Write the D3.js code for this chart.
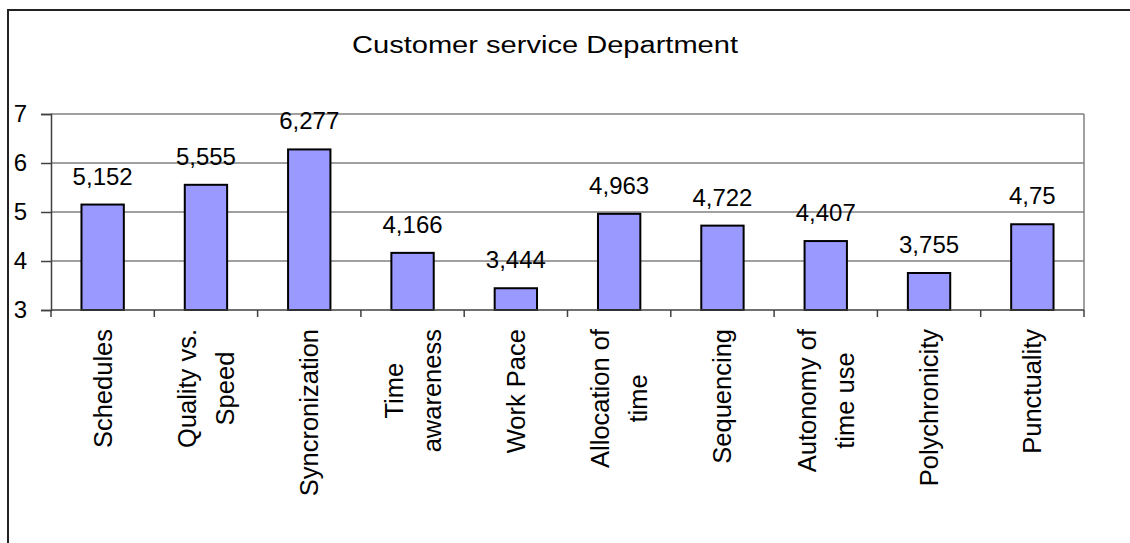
<!DOCTYPE html>
<html>
<head>
<meta charset="utf-8">
<script src="https://cdn.jsdelivr.net/npm/d3@7"></script>
<style>
  body { margin: 0; background: #fff; }
  text { font-family: "Liberation Sans", Arial, sans-serif; fill: #000; }
</style>
</head>
<body>
<svg id="chart" width="1130" height="543"></svg>
<script>
const title = "Customer service Department";
const categories = [
  ["Schedules"],
  ["Quality vs.", "Speed"],
  ["Syncronization"],
  ["Time", "awareness"],
  ["Work Pace"],
  ["Allocation of", "time"],
  ["Sequencing"],
  ["Autonomy of", "time use"],
  ["Polychronicity"],
  ["Punctuality"]
];
const values = [5.152, 5.555, 6.277, 4.166, 3.444, 4.963, 4.722, 4.407, 3.755, 4.75];
const yTicks = [3, 4, 5, 6, 7];

const plotLeft = 51, plotRight = 1084, plotTop = 114, plotBottom = 310;

const svg = d3.select("#chart");

// outer frame (runs off the right and bottom edges)
svg.append("rect")
  .attr("x", 8).attr("y", 10)
  .attr("width", 1200).attr("height", 600)
  .attr("fill", "none").attr("stroke", "#222").attr("stroke-width", 2);

const x = d3.scaleBand()
  .domain(d3.range(categories.length))
  .range([plotLeft, plotRight])
  .paddingInner(0.59)
  .paddingOuter(0.295);

const y = d3.scaleLinear().domain([3, 7]).range([plotBottom, plotTop]);

// gridlines
svg.append("g")
  .selectAll("line")
  .data(yTicks.filter(d => d > 3))
  .join("line")
  .attr("x1", plotLeft).attr("x2", plotRight)
  .attr("y1", d => y(d)).attr("y2", d => y(d))
  .attr("stroke", "#808080").attr("stroke-width", 1.5);

// right plot border
svg.append("line")
  .attr("x1", plotRight).attr("x2", plotRight)
  .attr("y1", plotTop).attr("y2", plotBottom)
  .attr("stroke", "#808080").attr("stroke-width", 1.5);

// y axis
const yAxis = d3.axisLeft(y)
  .tickValues(yTicks)
  .tickFormat(d3.format("d"))
  .tickSize(10)
  .tickPadding(14);
const gy = svg.append("g")
  .attr("transform", `translate(${plotLeft},0)`)
  .call(yAxis);
gy.select(".domain").attr("stroke", "#404040").attr("stroke-width", 1.5);
gy.selectAll(".tick line").attr("stroke", "#404040").attr("stroke-width", 1.5);
gy.selectAll(".tick text")
  .attr("font-size", 24)
  .attr("font-family", "Liberation Sans, Arial, sans-serif")
  .attr("fill", "#000");

// bars
svg.append("g")
  .selectAll("rect")
  .data(values)
  .join("rect")
  .attr("x", (d, i) => x(i))
  .attr("y", d => y(d))
  .attr("width", x.bandwidth())
  .attr("height", d => y(3) - y(d))
  .attr("fill", "#9999FF")
  .attr("stroke", "#000")
  .attr("stroke-width", 2);

// x axis with ticks at category boundaries
const step = x.step();
const bounds = d3.range(categories.length + 1).map(i => plotLeft + i * step);
svg.append("line")
  .attr("x1", plotLeft).attr("x2", plotRight)
  .attr("y1", plotBottom).attr("y2", plotBottom)
  .attr("stroke", "#404040").attr("stroke-width", 1.5);
svg.append("g")
  .selectAll("line")
  .data(bounds)
  .join("line")
  .attr("x1", d => d).attr("x2", d => d)
  .attr("y1", plotBottom).attr("y2", plotBottom + 7)
  .attr("stroke", "#404040").attr("stroke-width", 1.5);

// value labels
svg.append("g")
  .selectAll("text")
  .data(values)
  .join("text")
  .attr("x", (d, i) => x(i) + x.bandwidth() / 2)
  .attr("y", d => y(d) - 20)
  .attr("text-anchor", "middle")
  .attr("font-size", 24)
  .text(d => String(d).replace(".", ","));

// rotated category labels
const fs = 25.5, lh = 38, capH = 18, labelTop = 329;
categories.forEach((lines, i) => {
  const cx = x(i) + x.bandwidth() / 2;
  const g = svg.append("g")
    .attr("transform", `translate(${cx},${labelTop}) rotate(-90)`);
  const t = g.selectAll("text")
    .data(lines)
    .join("text")
    .attr("font-size", fs)
    .attr("text-anchor", "middle")
    .attr("y", (d, j) => capH / 2 + (j - (lines.length - 1) / 2) * lh)
    .text(d => d);
  const maxLen = d3.max(t.nodes(), n => n.getComputedTextLength());
  t.attr("x", -maxLen / 2);
});

// title
svg.append("text")
  .attr("x", 545).attr("y", 53)
  .attr("text-anchor", "middle")
  .attr("font-size", 23)
  .attr("textLength", 386)
  .attr("lengthAdjust", "spacingAndGlyphs")
  .text(title);
</script>
</body>
</html>
